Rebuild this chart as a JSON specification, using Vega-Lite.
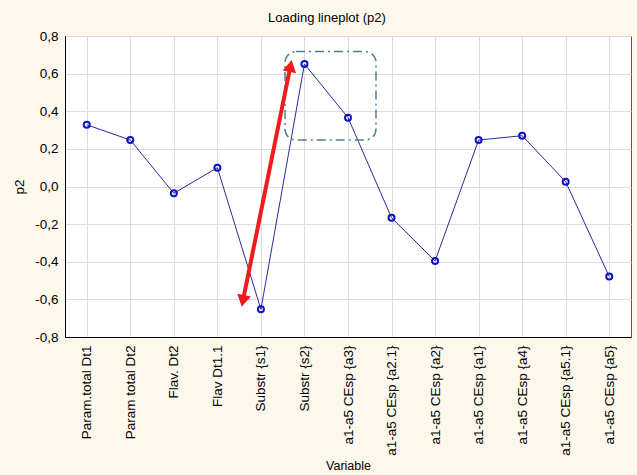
{
  "$schema": "https://vega.github.io/schema/vega-lite/v6.json",
  "autosize": {"type": "none"},
  "padding": {"left": 65, "top": 36, "right": 6, "bottom": 138},
  "width": 566,
  "height": 301,
  "background": "#fcf8ec",
  "title": {"text": "Loading lineplot (p2)", "fontSize": 13, "fontWeight": "normal", "font": "Liberation Sans", "color": "#000000", "anchor": "middle", "frame": "group", "dx": -21, "offset": 4},
  "config": {
    "view": {"fill": "#ffffff", "stroke": "#555555", "strokeWidth": 1},
    "axis": {"labelFont": "Liberation Sans", "titleFont": "Liberation Sans", "labelColor": "#000000", "titleColor": "#000000", "titleFontWeight": "normal", "gridColor": "#dcdcdc", "domainColor": "#000000", "ticks": false, "labelOverlap": false, "labelFlush": false},
    "axisX": {"labelAngle": -90, "labelFontSize": 13.5, "labelPadding": 8, "titleFontSize": 12.5, "titlePadding": 4, "labelBound": false},
    "axisY": {"labelFontSize": 13.5, "labelPadding": 7, "titleFontSize": 13.5, "titlePadding": 8}
  },
  "datasets": {
    "loadings": [
      {"idx": 0, "variable": "Param.total Dt1", "p2": 0.328},
      {"idx": 1, "variable": "Param total Dt2", "p2": 0.247},
      {"idx": 2, "variable": "Flav. Dt2", "p2": -0.036},
      {"idx": 3, "variable": "Flav Dt1.1", "p2": 0.1},
      {"idx": 4, "variable": "Substr {s1}", "p2": -0.653},
      {"idx": 5, "variable": "Substr {s2}", "p2": 0.651},
      {"idx": 6, "variable": "a1-a5 CEsp {a3}", "p2": 0.366},
      {"idx": 7, "variable": "a1-a5 CEsp {a2.1}", "p2": -0.166},
      {"idx": 8, "variable": "a1-a5 CEsp {a2}", "p2": -0.396},
      {"idx": 9, "variable": "a1-a5 CEsp {a1}", "p2": 0.247},
      {"idx": 10, "variable": "a1-a5 CEsp {a4}", "p2": 0.27},
      {"idx": 11, "variable": "a1-a5 CEsp {a5.1}", "p2": 0.025},
      {"idx": 12, "variable": "a1-a5 CEsp {a5}", "p2": -0.479}
    ],
    "arrow": [
      {"x": 3.586, "y": -0.608, "x2": 4.679, "y2": 0.641}
    ],
    "heads": [
      {"end": "top", "x": 4.679, "y": 0.641},
      {"end": "bottom", "x": 3.586, "y": -0.608}
    ],
    "box": [
      {"x": 4.553, "x2": 6.643, "y": 0.717, "y2": 0.247}
    ]
  },
  "layer": [
    {
      "data": {"name": "loadings"},
      "mark": {"type": "line", "color": "#2a2aa0", "strokeWidth": 1},
      "encoding": {
        "x": {"field": "idx", "type": "quantitative", "scale": {"domain": [-0.5, 12.5], "nice": false, "zero": false},
          "axis": {"values": [0,1,2,3,4,5,6,7,8,9,10,11,12], "labelExpr": "['Param.total Dt1','Param total Dt2','Flav. Dt2','Flav Dt1.1','Substr {s1}','Substr {s2}','a1-a5 CEsp {a3}','a1-a5 CEsp {a2.1}','a1-a5 CEsp {a2}','a1-a5 CEsp {a1}','a1-a5 CEsp {a4}','a1-a5 CEsp {a5.1}','a1-a5 CEsp {a5}'][datum.value]", "title": "Variable"}},
        "y": {"field": "p2", "type": "quantitative", "scale": {"domain": [-0.8, 0.8], "nice": false},
          "axis": {"values": [-0.8,-0.6,-0.4,-0.2,0,0.2,0.4,0.6,0.8], "labelExpr": "(datum.value < -0.01 ? '-' : '') + replace(format(abs(datum.value), '.1f'), '.', ',')", "title": "p2"}}
      }
    },
    {
      "data": {"name": "loadings"},
      "mark": {"type": "point", "filled": false, "color": "#1010c8", "strokeWidth": 2, "size": 36, "opacity": 1},
      "encoding": {
        "x": {"field": "idx", "type": "quantitative",
          "axis": {"values": [0,1,2,3,4,5,6,7,8,9,10,11,12], "labelExpr": "['Param.total Dt1','Param total Dt2','Flav. Dt2','Flav Dt1.1','Substr {s1}','Substr {s2}','a1-a5 CEsp {a3}','a1-a5 CEsp {a2.1}','a1-a5 CEsp {a2}','a1-a5 CEsp {a1}','a1-a5 CEsp {a4}','a1-a5 CEsp {a5.1}','a1-a5 CEsp {a5}'][datum.value]", "title": "Variable"}},
        "y": {"field": "p2", "type": "quantitative",
          "axis": {"values": [-0.8,-0.6,-0.4,-0.2,0,0.2,0.4,0.6,0.8], "labelExpr": "(datum.value < -0.01 ? '-' : '') + replace(format(abs(datum.value), '.1f'), '.', ',')", "title": "p2"}}
      }
    },
    {
      "data": {"name": "box"},
      "mark": {"type": "rect", "fill": null, "stroke": "#4f7f90", "strokeWidth": 1.5, "strokeDash": [9, 4, 2, 4], "cornerRadius": 11},
      "encoding": {
        "x": {"field": "x", "type": "quantitative",
          "axis": {"values": [0,1,2,3,4,5,6,7,8,9,10,11,12], "labelExpr": "['Param.total Dt1','Param total Dt2','Flav. Dt2','Flav Dt1.1','Substr {s1}','Substr {s2}','a1-a5 CEsp {a3}','a1-a5 CEsp {a2.1}','a1-a5 CEsp {a2}','a1-a5 CEsp {a1}','a1-a5 CEsp {a4}','a1-a5 CEsp {a5.1}','a1-a5 CEsp {a5}'][datum.value]", "title": "Variable"}},
        "x2": {"field": "x2"},
        "y": {"field": "y", "type": "quantitative",
          "axis": {"values": [-0.8,-0.6,-0.4,-0.2,0,0.2,0.4,0.6,0.8], "labelExpr": "(datum.value < -0.01 ? '-' : '') + replace(format(abs(datum.value), '.1f'), '.', ',')", "title": "p2"}},
        "y2": {"field": "y2"}
      }
    },
    {
      "data": {"name": "arrow"},
      "mark": {"type": "rule", "color": "#ee1c1c", "strokeWidth": 4},
      "encoding": {
        "x": {"field": "x", "type": "quantitative",
          "axis": {"values": [0,1,2,3,4,5,6,7,8,9,10,11,12], "labelExpr": "['Param.total Dt1','Param total Dt2','Flav. Dt2','Flav Dt1.1','Substr {s1}','Substr {s2}','a1-a5 CEsp {a3}','a1-a5 CEsp {a2.1}','a1-a5 CEsp {a2}','a1-a5 CEsp {a1}','a1-a5 CEsp {a4}','a1-a5 CEsp {a5.1}','a1-a5 CEsp {a5}'][datum.value]", "title": "Variable"}},
        "x2": {"field": "x2"},
        "y": {"field": "y", "type": "quantitative",
          "axis": {"values": [-0.8,-0.6,-0.4,-0.2,0,0.2,0.4,0.6,0.8], "labelExpr": "(datum.value < -0.01 ? '-' : '') + replace(format(abs(datum.value), '.1f'), '.', ',')", "title": "p2"}},
        "y2": {"field": "y2"}
      }
    },
    {
      "data": {"name": "heads"},
      "transform": [{"filter": "datum.end == 'top'"}],
      "mark": {"type": "point", "shape": "triangle-up", "filled": true, "color": "#ee1c1c", "size": 190, "angle": 11.4, "opacity": 1},
      "encoding": {
        "x": {"field": "x", "type": "quantitative",
          "axis": {"values": [0,1,2,3,4,5,6,7,8,9,10,11,12], "labelExpr": "['Param.total Dt1','Param total Dt2','Flav. Dt2','Flav Dt1.1','Substr {s1}','Substr {s2}','a1-a5 CEsp {a3}','a1-a5 CEsp {a2.1}','a1-a5 CEsp {a2}','a1-a5 CEsp {a1}','a1-a5 CEsp {a4}','a1-a5 CEsp {a5.1}','a1-a5 CEsp {a5}'][datum.value]", "title": "Variable"}},
        "y": {"field": "y", "type": "quantitative",
          "axis": {"values": [-0.8,-0.6,-0.4,-0.2,0,0.2,0.4,0.6,0.8], "labelExpr": "(datum.value < -0.01 ? '-' : '') + replace(format(abs(datum.value), '.1f'), '.', ',')", "title": "p2"}}
      }
    },
    {
      "data": {"name": "heads"},
      "transform": [{"filter": "datum.end == 'bottom'"}],
      "mark": {"type": "point", "shape": "triangle-down", "filled": true, "color": "#ee1c1c", "size": 190, "angle": 11.4, "opacity": 1},
      "encoding": {
        "x": {"field": "x", "type": "quantitative",
          "axis": {"values": [0,1,2,3,4,5,6,7,8,9,10,11,12], "labelExpr": "['Param.total Dt1','Param total Dt2','Flav. Dt2','Flav Dt1.1','Substr {s1}','Substr {s2}','a1-a5 CEsp {a3}','a1-a5 CEsp {a2.1}','a1-a5 CEsp {a2}','a1-a5 CEsp {a1}','a1-a5 CEsp {a4}','a1-a5 CEsp {a5.1}','a1-a5 CEsp {a5}'][datum.value]", "title": "Variable"}},
        "y": {"field": "y", "type": "quantitative",
          "axis": {"values": [-0.8,-0.6,-0.4,-0.2,0,0.2,0.4,0.6,0.8], "labelExpr": "(datum.value < -0.01 ? '-' : '') + replace(format(abs(datum.value), '.1f'), '.', ',')", "title": "p2"}}
      }
    }
  ]
}
